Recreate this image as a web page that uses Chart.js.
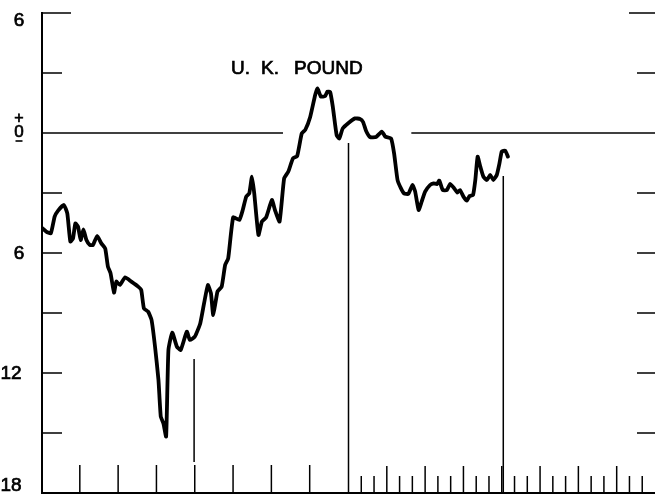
<!DOCTYPE html>
<html>
<head>
<meta charset="utf-8">
<script src="https://cdn.jsdelivr.net/npm/chart.js@4/dist/chart.umd.min.js"></script>
<style>
  html, body { margin: 0; padding: 0; background: #fff; }
  canvas { display: block; }
</style>
</head>
<body>
<canvas id="poundChart" width="655" height="496"></canvas>
<script>
// Time in months from start of the plot, deviation in percent
const months = [
  0.00, 0.11, 0.23, 0.33, 0.42, 0.57, 0.66, 0.74, 0.81, 0.87, 0.94, 1.01, 1.08, 1.16,
  1.25, 1.33, 1.44, 1.55, 1.65, 1.72, 1.79, 1.88, 1.94, 2.03, 2.17, 2.33, 2.51, 2.59,
  2.66, 2.77, 2.86, 2.95, 3.04, 3.10, 3.17, 3.24, 3.30, 3.40, 3.52, 3.62, 3.78, 3.86,
  3.99, 4.13, 4.23, 4.33, 4.41, 4.47, 4.58, 4.69, 4.78, 4.86, 4.99, 5.15, 5.24, 5.33,
  5.41, 5.48, 5.54, 5.65, 5.74, 5.85, 6.00, 6.08, 6.20, 6.32, 6.43, 6.55, 6.66, 6.78,
  6.87, 7.00, 7.13, 7.19, 7.28, 7.39, 7.45, 7.52, 7.59, 7.69, 7.76, 7.85, 8.00, 8.17,
  8.30, 8.38, 8.46, 8.56, 8.72, 8.87, 8.96, 9.11, 9.19, 9.28, 9.37, 9.45, 9.56, 9.67,
  9.74, 9.83, 9.91, 10.00, 10.13, 10.22, 10.31, 10.37, 10.46, 10.57, 10.65, 10.76, 10.84,
  10.91, 11.00, 11.09, 11.16, 11.25, 11.31, 11.37, 11.44, 11.52, 11.61, 11.70, 11.78,
  11.87, 11.94, 12.00, 12.09, 12.16
];
const values = [
  -4.75, -4.93, -5.02, -4.18, -3.88, -3.60, -4.02, -5.43, -5.27, -4.52, -4.68, -5.35, -4.82, -5.35,
  -5.60, -5.60, -5.15, -5.52, -5.77, -6.68, -7.02, -7.98, -7.43, -7.60, -7.22, -7.43, -7.68, -7.85,
  -8.77, -8.93, -9.35, -10.68, -12.35, -14.18, -14.52, -15.18, -10.85, -9.98, -10.68, -10.85, -9.93, -10.35,
  -10.18, -9.52, -8.52, -7.60, -8.02, -9.10, -7.93, -7.68, -6.60, -6.27, -4.22, -4.35, -3.85, -3.18,
  -3.02, -2.18, -3.02, -5.10, -4.43, -4.22, -3.35, -3.85, -4.43, -2.27, -1.93, -1.27, -1.15, -0.02,
  0.15, 0.80, 1.90, 2.23, 1.82, 1.85, 2.07, 2.05, 1.32, -0.10, -0.27, 0.23, 0.50, 0.73,
  0.70, 0.55, 0.10, -0.20, -0.20, 0.07, -0.18, -0.27, -1.02, -2.35, -2.77, -3.02, -3.05, -2.60,
  -2.93, -3.85, -3.43, -2.93, -2.60, -2.52, -2.55, -2.38, -2.85, -2.85, -2.55, -2.77, -2.98,
  -2.85, -3.18, -3.38, -3.15, -3.10, -2.35, -1.18, -1.68, -2.18, -2.35, -2.10, -2.35,
  -2.10, -1.52, -0.93, -0.88, -1.18
];

// Axis ticks and labels
const yTickValues = [6, 3, 0, -3, -6, -9, -12, -15];
const yLabelValues = [6, 0, -6, -12, -18];
const yLabels = ['6', '0', '6', '12', '18'];
const monthTicks = [1, 2, 3, 4, 5, 6, 7];

// Reference verticals: month, top value, bottom value
const refMonths = [3.97, 8.0, 12.04];
const refTops = [-11.3, -0.5, -2.15];
const refBottoms = [-16.45, -18, -18];

// Zero line is broken where the title and the peak sit
const zeroSegments = [[0, 6.29], [9.64, 16]];

const title = ['U.', 'K.', 'POUND'];

const FONT = '"Liberation Sans", Arial, sans-serif';

function heavyText(ctx, text, x, y) {
    ctx.fillText(text, x, y);
    ctx.strokeText(text, x, y);
}

const framePlugin = {
    id: 'frame',
    beforeDatasetsDraw(chart) {
        const ctx = chart.ctx;
        const xs = chart.scales.x;
        const ys = chart.scales.y;
        const area = chart.chartArea;
        const y0 = ys.getPixelForValue(0);

        ctx.save();
        ctx.strokeStyle = '#000';
        ctx.lineCap = 'butt';

        // left axis + bottom axis
        ctx.lineWidth = 2;
        ctx.beginPath();
        ctx.moveTo(area.left, ys.getPixelForValue(6) - 1);
        ctx.lineTo(area.left, area.bottom);
        ctx.lineTo(area.right, area.bottom);
        ctx.stroke();

        // y ticks, both sides
        ctx.lineWidth = 1.7;
        yTickValues.forEach(v => {
            if (v === 0) return;
            const py = ys.getPixelForValue(v);
            const top = v === 6;
            ctx.beginPath();
            ctx.moveTo(area.left, py);
            ctx.lineTo(area.left + (top ? 29 : 20), py);
            ctx.moveTo(area.right - (top ? 26 : 18), py);
            ctx.lineTo(area.right, py);
            ctx.stroke();
        });

        // zero line
        ctx.lineWidth = 1.5;
        zeroSegments.forEach(seg => {
            ctx.beginPath();
            ctx.moveTo(xs.getPixelForValue(seg[0]), y0);
            ctx.lineTo(xs.getPixelForValue(seg[1]), y0);
            ctx.stroke();
        });

        // month ticks on the left half
        monthTicks.forEach(m => {
            const px = xs.getPixelForValue(m) - 0.5;
            ctx.beginPath();
            ctx.moveTo(px, area.bottom);
            ctx.lineTo(px, area.bottom - 28);
            ctx.stroke();
        });

        // thirds of a month on the right half
        for (let i = 1; i < 24; i++) {
            const m = 8 + i / 3;
            const px = xs.getPixelForValue(m);
            const len = i % 3 === 0 ? 27 : 17;
            ctx.beginPath();
            ctx.moveTo(px, area.bottom);
            ctx.lineTo(px, area.bottom - len);
            ctx.stroke();
        }

        // reference verticals
        refMonths.forEach((m, i) => {
            const px = xs.getPixelForValue(m);
            ctx.beginPath();
            ctx.moveTo(px, ys.getPixelForValue(refTops[i]));
            ctx.lineTo(px, ys.getPixelForValue(refBottoms[i]));
            ctx.stroke();
        });

        // y labels
        ctx.fillStyle = '#000';
        ctx.lineWidth = 0.7;
        ctx.font = '19px ' + FONT;
        ctx.textAlign = 'center';
        ctx.textBaseline = 'middle';
        yLabelValues.forEach((v, i) => {
            let py = ys.getPixelForValue(v);
            py = Math.max(20, Math.min(485, py));
            const cx = yLabels[i].length > 1 ? 11 : 19;
            if (v === 0) {
                ctx.font = '17px ' + FONT;
                heavyText(ctx, yLabels[i], cx, py - 1);
                ctx.font = '16px ' + FONT;
                heavyText(ctx, '+', cx, py - 14);
                ctx.lineWidth = 1.6;
                ctx.beginPath();
                ctx.moveTo(cx - 3.5, py + 8);
                ctx.lineTo(cx + 3.5, py + 8);
                ctx.stroke();
                ctx.lineWidth = 0.7;
                ctx.font = '19px ' + FONT;
            } else {
                heavyText(ctx, yLabels[i], cx, py + 1);
            }
        });

        // title
        ctx.font = '19px ' + FONT;
        ctx.textAlign = 'left';
        ctx.textBaseline = 'alphabetic';
        heavyText(ctx, title[0], 231, 74);
        heavyText(ctx, title[1], 261, 74);
        heavyText(ctx, title[2], 294, 74);

        ctx.restore();
    }
};

const chart = new Chart(document.getElementById('poundChart').getContext('2d'), {
    type: 'line',
    data: {
        datasets: [{
            label: 'U. K. Pound',
            data: months.map((m, i) => ({ x: m, y: values[i] })),
            borderColor: '#000',
            borderWidth: 3.8,
            borderJoinStyle: 'round',
            borderCapStyle: 'round',
            pointRadius: 0,
            tension: 0.15,
            fill: false
        }]
    },
    options: {
        responsive: false,
        animation: false,
        layout: { padding: { left: 42, right: 0, top: 13, bottom: 3 } },
        plugins: {
            legend: { display: false },
            tooltip: { enabled: false }
        },
        scales: {
            x: { type: 'linear', min: 0, max: 16, display: false },
            y: { type: 'linear', min: -18, max: 6, display: false }
        }
    },
    plugins: [framePlugin]
});
</script>
</body>
</html>
